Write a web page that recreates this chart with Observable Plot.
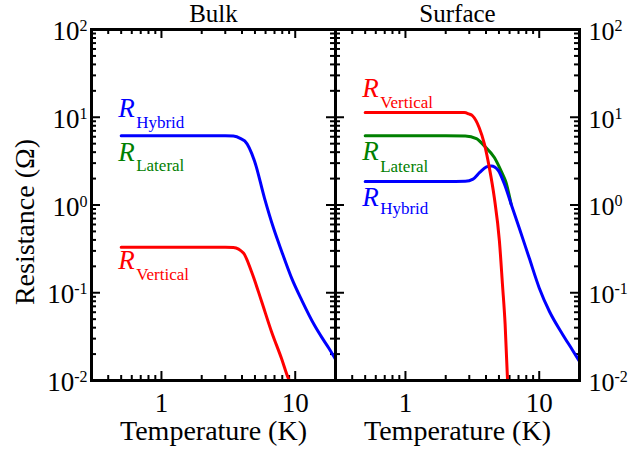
<!DOCTYPE html>
<html><head><meta charset="utf-8">
<script src="https://cdn.jsdelivr.net/npm/d3@7"></script>
<script src="https://cdn.jsdelivr.net/npm/@observablehq/plot@0.6"></script>
<style>
body{margin:0;background:#fff}
#chart{width:629px;height:452px}
#chart svg, #chart svg text, #chart svg tspan { font-family: "Liberation Serif", "Times New Roman", serif !important; }
</style>
</head><body><div id="chart"></div>
<script>
// ---- data ----
const panels = ["Bulk", "Surface"];
const bulkHybridT = [0.5, 1, 2, 3, 3.45, 3.95, 4.19, 4.96, 5.89, 6.88, 7.91, 9.4, 11.2, 14.0, 15.8, 17.8, 20];
const bulkHybridR = [6.15, 6.15, 6.15, 6.15, 6.1, 5.67, 5.38, 3.18, 1.2, 0.546, 0.298, 0.147, 0.082, 0.042, 0.031, 0.0235, 0.0175];
const bulkVerticalT = [0.5, 1, 2, 3, 3.45, 4.1, 4.7, 5.6, 6.65, 7.9, 8.9, 9.1];
const bulkVerticalR = [0.331, 0.331, 0.331, 0.331, 0.328, 0.283, 0.176, 0.080, 0.036, 0.0178, 0.0105, 0.0098];
const surfVerticalT = [0.5, 1, 2, 2.75, 2.98, 3.17, 3.56, 3.89, 4.24, 4.62, 5.04, 5.31, 5.56, 5.79];
const surfVerticalR = [11.35, 11.35, 11.35, 11.3, 10.9, 10.4, 7.6, 4.98, 2.65, 1.2, 0.388, 0.125, 0.0436, 0.0105];
const surfLateralT = [0.5, 1, 2, 2.8, 3.39, 3.89, 4.62, 5.31, 5.6, 6.17];
const surfLateralR = [6.15, 6.15, 6.15, 6.1, 5.7, 4.7, 3.47, 2.26, 1.88, 1.02];
const surfHybridT = [0.5, 1, 2, 2.8, 3.2, 3.59, 4.03, 4.39, 4.93, 5.5, 6.17, 7.08, 8.41, 10.0, 11.9, 15.0, 17.8, 20];
const surfHybridR = [1.85, 1.85, 1.85, 1.86, 1.97, 2.35, 2.72, 2.79, 2.49, 1.72, 1.02, 0.55, 0.25, 0.1135, 0.0615, 0.0333, 0.022, 0.0165];

const xMajorTicks = [1, 10];
const xMinorTicks = [0.4, 0.5, 0.6, 0.7, 0.8, 0.9, 2, 3, 4, 5, 6, 7, 8, 9];
const yMajorTicks = [0.01, 0.1, 1, 10, 100];
const yMinorTicks = [0.02, 0.03, 0.04, 0.05, 0.06, 0.07, 0.08, 0.09,
  0.2, 0.3, 0.4, 0.5, 0.6, 0.7, 0.8, 0.9,
  2, 3, 4, 5, 6, 7, 8, 9,
  20, 30, 40, 50, 60, 70, 80, 90];

// ---- build ----
const BLUE = "#0000ff", GREEN = "#008000", RED = "#ff0000";
function rows(panel, T, R) { return T.map((t, i) => ({panel, T: t, R: R[i]})); }
const bulkHybrid = rows("Bulk", bulkHybridT, bulkHybridR);
const bulkVertical = rows("Bulk", bulkVerticalT, bulkVerticalR);
const surfVertical = rows("Surface", surfVerticalT, surfVerticalR);
const surfLateral = rows("Surface", surfLateralT, surfLateralR);
const surfHybrid = rows("Surface", surfHybridT, surfHybridR);

const W = 629, H = 452, ML = 91, MR = 50, MT = 29, MB = 72;
const FW = (W - ML - MR) / 2, FH = H - MT - MB;
const font = "Liberation Serif";

function curve(data, color) {
  return Plot.line(data, {x: "T", y: "R", fx: "panel", stroke: color, strokeWidth: 3, curve: "monotone-x", clip: true});
}
function label(series, sub, color, dyR, dySub) {
  const first = [series[0]];
  return [
    Plot.text(first, {x: "T", y: "R", fx: "panel", text: () => "R", fill: color, fontStyle: "italic", fontSize: 27, textAnchor: "start", lineAnchor: "middle", dx: -3, dy: dyR}),
    Plot.text(first, {x: "T", y: "R", fx: "panel", text: () => sub, fill: color, fontSize: 17, textAnchor: "start", lineAnchor: "middle", dx: 15, dy: dySub})
  ];
}
const tickStyle = {stroke: "black", strokeWidth: 2};
const expFormat = d => "10^" + Math.round(Math.log10(d));

const plot = Plot.plot({
  width: W, height: H,
  marginLeft: ML, marginRight: MR, marginTop: MT, marginBottom: MB,
  style: {fontFamily: font, background: "white", overflow: "visible"},
  fx: {domain: panels, padding: 0, axis: null},
  x: {type: "log", domain: [0.3, 20]},
  y: {type: "log", domain: [0.01, 100]},
  marks: [
    // ticks (inward)
    Plot.tickX(xMinorTicks, {x: d => d, insetTop: FH - 5, ...tickStyle}),
    Plot.tickX(xMinorTicks, {x: d => d, insetBottom: FH - 5, ...tickStyle}),
    Plot.tickX(xMajorTicks, {x: d => d, insetTop: FH - 9, ...tickStyle}),
    Plot.tickX(xMajorTicks, {x: d => d, insetBottom: FH - 9, ...tickStyle}),
    Plot.tickY(yMinorTicks, {y: d => d, insetRight: FW - 5, ...tickStyle}),
    Plot.tickY(yMinorTicks, {y: d => d, insetLeft: FW - 5, ...tickStyle}),
    Plot.tickY(yMajorTicks, {y: d => d, insetRight: FW - 9, ...tickStyle}),
    Plot.tickY(yMajorTicks, {y: d => d, insetLeft: FW - 9, ...tickStyle}),
    // tick labels
    Plot.axisX({ticks: xMajorTicks, anchor: "bottom", tickSize: 0, tickPadding: 12, tickFormat: d => String(d), fontSize: 27, label: null}),
    Plot.axisY({ticks: yMajorTicks, anchor: "left", tickSize: 0, tickPadding: 4, dy: 2, tickFormat: expFormat, fontSize: 27, label: null}),
    Plot.axisY({ticks: yMajorTicks, anchor: "right", tickSize: 0, tickPadding: 9, dy: 2, tickFormat: expFormat, fontSize: 26, label: null}),
    // curves
    curve(surfLateral, GREEN),
    curve(bulkHybrid, BLUE),
    curve(surfHybrid, BLUE),
    curve(bulkVertical, RED),
    curve(surfVertical, RED),
    // labels
    ...label(bulkHybrid, "Hybrid", BLUE, -27, -13.7),
    ...label(bulkHybrid, "Lateral", GREEN, 17, 29.3),
    ...label(bulkVertical, "Vertical", RED, 13.4, 27.6),
    ...label(surfVertical, "Vertical", RED, -24.3, -10),
    ...label(surfLateral, "Lateral", GREEN, 15.4, 30.3),
    ...label(surfHybrid, "Hybrid", BLUE, 15.7, 27),
    // titles & axis labels
    Plot.text(panels, {fx: d => d, text: d => d, frameAnchor: "top", lineAnchor: "middle", textAnchor: "middle", dy: -15.5, fontSize: 25}),
    Plot.text(["Temperature (K)"], {frameAnchor: "bottom", lineAnchor: "middle", textAnchor: "middle", dy: 51, fontSize: 28}),
    Plot.text([{panel: "Bulk", label: "Resistance (\u03A9)"}], {fx: "panel", text: "label", frameAnchor: "left", lineAnchor: "middle", textAnchor: "middle", rotate: -90, dx: -66, dy: 17, fontSize: 28}),
    Plot.frame({stroke: "black", strokeWidth: 3})
  ]
});

// superscript exponents in tick labels
plot.querySelectorAll("text").forEach(t => {
  const m = /^10\^(-?\d+)$/.exec(t.textContent);
  if (!m) return;
  t.textContent = "10";
  const ts = document.createElementNS("http://www.w3.org/2000/svg", "tspan");
  ts.setAttribute("font-size", "16");
  ts.setAttribute("dy", "-9");
  ts.textContent = m[1];
  t.appendChild(ts);
});
document.getElementById("chart").appendChild(plot);
</script>
</body></html>
